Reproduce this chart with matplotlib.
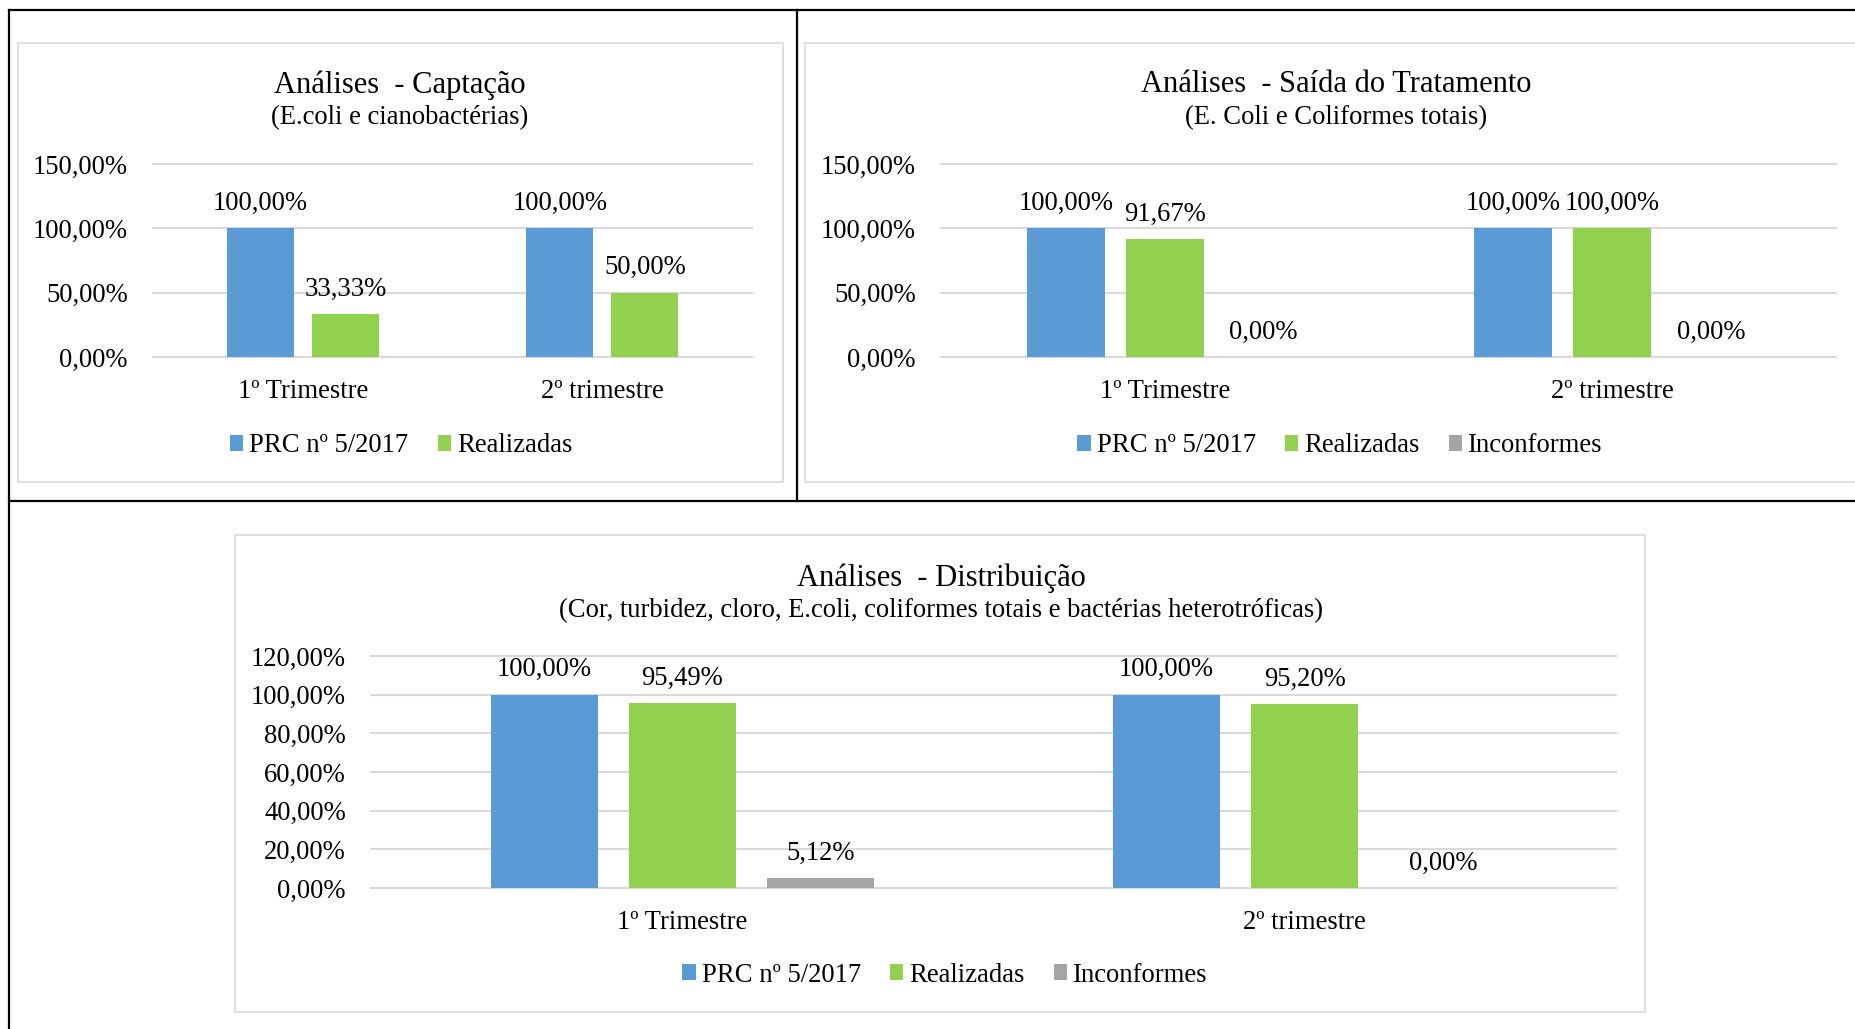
import matplotlib
matplotlib.use("Agg")
import matplotlib.pyplot as plt
from matplotlib.patches import Rectangle
from matplotlib.lines import Line2D
from matplotlib.ticker import FuncFormatter, MultipleLocator

# ---------------- data ----------------
categories = ["1º Trimestre", "2º trimestre"]
series_names = ["PRC nº 5/2017", "Realizadas", "Inconformes"]

captacao_prc = [1.0, 1.0]
captacao_realizadas = [0.3333, 0.50]

saida_prc = [1.0, 1.0]
saida_realizadas = [0.9167, 1.0]
saida_inconformes = [0.0, 0.0]

distrib_prc = [1.0, 1.0]
distrib_realizadas = [0.9549, 0.9520]
distrib_inconformes = [0.0512, 0.0]

titles = ["Análises  - Captação", "Análises  - Saída do Tratamento", "Análises  - Distribuição"]
subtitles = ["(E.coli e cianobactérias)", "(E. Coli e Coliformes totais)",
             "(Cor, turbidez, cloro, E.coli, coliformes totais e bactérias heterotróficas)"]

# ---------------- style ----------------
W, H = 1856, 1029
DPI = 100
COLORS = ["#5B9BD5", "#92D050", "#A5A5A5"]
GRID = "#D9D9D9"
FONT = "Liberation Serif"
plt.rcParams["font.family"] = [FONT, "DejaVu Serif"]
FS = 19.2

fig = plt.figure(figsize=(W / DPI, H / DPI), dpi=DPI)
fig.patch.set_facecolor("white")


def fx(x):
    return x / W


def fy(y):
    return 1 - y / H


def pct(v, _=None):
    return f"{v * 100:.2f}%".replace(".", ",")


# outer frame lines (document table)
for (x0, y0, x1, y1) in [(9, 10, 1860, 10), (9, 10, 9, 1035), (797, 10, 797, 501), (9, 501, 1860, 501)]:
    fig.add_artist(Line2D([fx(x0), fx(x1)], [fy(y0), fy(y1)], color="black", lw=1.6,
                          transform=fig.transFigure))

# chart boxes
for (x0, y0, x1, y1) in [(18, 43, 783, 482), (805, 43, 1875, 482), (235, 535, 1645, 1012)]:
    fig.add_artist(Rectangle((fx(x0), fy(y1)), fx(x1) - fx(x0), fy(y0) - fy(y1),
                             transform=fig.transFigure, fill=False, edgecolor=GRID, lw=1.2))


def make_chart(ax_px, series, names, width, step, ymax, ystep, title, subtitle,
               title_xy, legend_xy):
    left, top, right, bottom = ax_px
    ax = fig.add_axes([fx(left), fy(bottom), fx(right) - fx(left), fy(top) - fy(bottom)])
    n = len(series)
    xs = list(range(len(categories)))
    handles = []
    for i, vals in enumerate(series):
        off = (i - (n - 1) / 2) * step
        pos = [x + off for x in xs]
        b = ax.bar(pos, vals, width=width, color=COLORS[i], label=names[i], zorder=3)
        handles.append(b)
        for p, v in zip(pos, vals):
            ax.annotate(pct(v), (p, v), xytext=(0, 18), textcoords="offset points",
                        ha="center", va="center", fontsize=FS, family=FONT)
    ax.set_xlim(-0.5, len(categories) - 0.5)
    ax.set_ylim(0, ymax)
    ax.yaxis.set_major_locator(MultipleLocator(ystep))
    ax.yaxis.set_major_formatter(FuncFormatter(pct))
    ax.set_xticks(xs)
    ax.set_xticklabels(categories)
    for s in ax.spines.values():
        s.set_visible(False)
    ax.tick_params(axis="both", length=0, labelsize=FS)
    ax.tick_params(axis="y", pad=18)
    ax.tick_params(axis="x", pad=15.5)
    ax.yaxis.grid(True, color=GRID, lw=1.5, zorder=0)
    ax.set_axisbelow(True)
    for gl in ax.get_ygridlines():
        gl.set_clip_on(False)
    ax.set_facecolor("none")
    tx, ty, sty = title_xy
    fig.text(fx(tx), fy(ty), title, ha="center", va="center", fontsize=22, family=FONT)
    fig.text(fx(tx), fy(sty), subtitle, ha="center", va="center", fontsize=19.2, family=FONT)
    lx, ly = legend_xy
    fig.legend(handles=handles, labels=names, loc="center", bbox_to_anchor=(fx(lx), fy(ly)),
               ncol=n, frameon=False, fontsize=FS, handlelength=0.5, handleheight=0.5,
               handletextpad=0.22, columnspacing=1.1, borderpad=0, borderaxespad=0)
    return ax


make_chart((153, 164, 752, 357), [captacao_prc, captacao_realizadas], series_names[:2],
           0.224, 0.284, 1.5, 0.5, titles[0], subtitles[0], (400, 85, 118), (401, 446))

make_chart((941, 164, 1836, 357), [saida_prc, saida_realizadas, saida_inconformes], series_names,
           0.174, 0.221, 1.5, 0.5, titles[1], subtitles[1], (1336, 85, 118), (1340, 446))

make_chart((371, 656, 1616, 888), [distrib_prc, distrib_realizadas, distrib_inconformes], series_names,
           0.172, 0.222, 1.2, 0.2, titles[2], subtitles[2], (941, 578, 611), (945, 975))

fig.savefig("out.png", dpi=DPI)
